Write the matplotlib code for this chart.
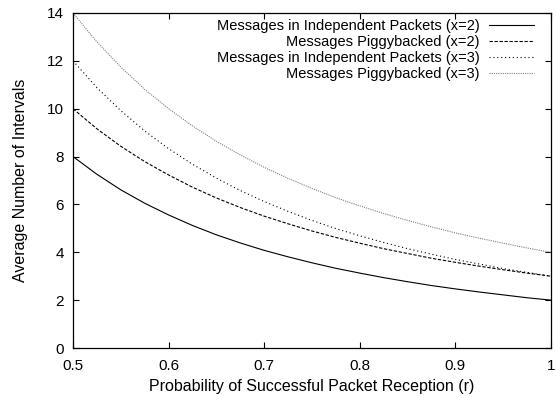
import numpy as np
import matplotlib.pyplot as plt

plt.rcParams['font.family'] = ['Liberation Sans', 'DejaVu Sans']
plt.rcParams['font.size'] = 11

# values
r = [0.5, 0.525, 0.55, 0.575, 0.6, 0.625, 0.65, 0.675, 0.7, 0.725, 0.75,
     0.775, 0.8, 0.825, 0.85, 0.875, 0.9, 0.925, 0.95, 0.975, 1.0]
indep_x2 = [8.00, 7.26, 6.61, 6.05, 5.56, 5.12, 4.73, 4.39, 4.08, 3.81, 3.56,
            3.33, 3.13, 2.94, 2.77, 2.61, 2.47, 2.34, 2.22, 2.10, 2.00]
piggy_x2 = [10.00, 9.16, 8.43, 7.79, 7.23, 6.72, 6.27, 5.87, 5.51, 5.19, 4.89,
            4.62, 4.38, 4.15, 3.95, 3.75, 3.58, 3.42, 3.27, 3.13, 3.00]
indep_x3 = [12.00, 10.88, 9.92, 9.07, 8.33, 7.68, 7.10, 6.58, 6.12, 5.71, 5.33,
            4.99, 4.69, 4.41, 4.15, 3.92, 3.70, 3.51, 3.32, 3.16, 3.00]
piggy_x3 = [14.00, 12.79, 11.74, 10.81, 10.00, 9.28, 8.64, 8.07, 7.55, 7.09, 6.67,
            6.28, 5.94, 5.62, 5.33, 5.06, 4.81, 4.59, 4.38, 4.18, 4.00]

fig = plt.figure(figsize=(5.56, 3.96), dpi=100)
ax = fig.add_axes([73/556, 1 - 348/396, (551-73)/556, (348-13)/396])

ax.plot(r, indep_x2, color='black', lw=0.8, label='Messages in Independent Packets (x=2)')
ax.plot(r, piggy_x2, color='black', lw=0.8, dashes=(3, 1.5), label='Messages Piggybacked (x=2)')
ax.plot(r, indep_x3, color='black', lw=0.8, dashes=(1, 2.5), label='Messages in Independent Packets (x=3)')
ax.plot(r, piggy_x3, color='#808080', lw=0.8, dashes=(1, 1), label='Messages Piggybacked (x=3)')

ax.set_xlim(0.5, 1)
ax.set_ylim(0, 14)
ax.set_xticks([0.5, 0.6, 0.7, 0.8, 0.9, 1.0])
ax.set_xticklabels(['0.5', '0.6', '0.7', '0.8', '0.9', '1'])
ax.set_yticks(range(0, 15, 2))
ax.tick_params(direction='in', top=True, right=True, length=4, width=0.8)
ax.tick_params(axis='x', pad=8)
ax.tick_params(axis='y', pad=6.5)
for s in ax.spines.values():
    s.set_linewidth(0.9)

ax.set_xlabel('Probability of Successful Packet Reception (r)', fontsize=11.5, labelpad=4)
ax.set_ylabel('Average Number of Intervals', fontsize=11.5, labelpad=14)

ax.legend(loc='upper right', bbox_to_anchor=(0.964, 0.982), frameon=False,
          markerfirst=False, handlelength=3.1, handletextpad=0.6,
          labelspacing=0.14, borderaxespad=0, borderpad=0, fontsize=10.5)

fig.savefig('out.png', dpi=100)
